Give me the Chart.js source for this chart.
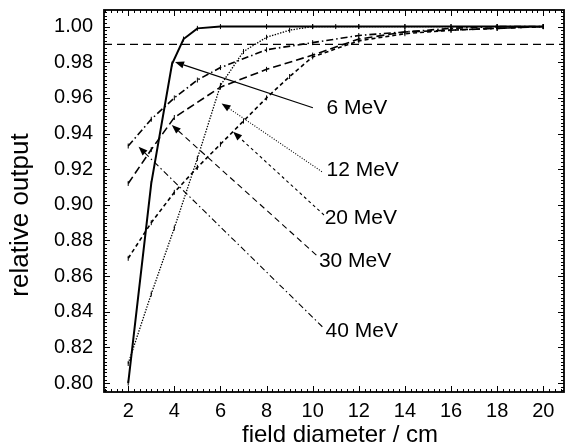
<!DOCTYPE html>
<html><head><meta charset="utf-8">
<script src="https://cdn.jsdelivr.net/npm/chart.js@4.4.0/dist/chart.umd.min.js"></script>
<style>html,body{margin:0;padding:0;background:#fff}#wrap{width:569px;height:448px}</style>
</head><body><div id="wrap"><canvas id="c" width="569" height="448"></canvas></div>
<script>
// ---- data ----
const diam6  = [2, 3, 3.9, 4.4, 5, 6, 8, 10, 11, 12, 14, 16, 18, 20];
const out6   = [0.800, 0.912, 0.979, 0.993, 0.999, 1.000, 1.000, 1.000, 1.000, 1.000, 1.000, 1.000, 1.000, 1.000];
const diam12 = [2, 3, 4, 5, 6, 7, 8, 9, 10, 12, 14, 16, 18, 20];
const out12  = [0.811, 0.850, 0.887, 0.926, 0.967, 0.986, 0.994, 0.998, 1.000, 1.000, 1.000, 1.000, 1.000, 1.000];
const diam20 = [2, 3, 4, 5, 6, 7, 8, 9, 10, 12, 14, 16, 18, 20];
const out20  = [0.870, 0.890, 0.907, 0.921, 0.934, 0.947, 0.960, 0.972, 0.983, 0.992, 0.996, 0.998, 0.999, 1.000];
const diam30 = [2, 3, 4, 6, 8, 10, 12, 14, 16, 18, 20];
const out30  = [0.912, 0.931, 0.949, 0.966, 0.976, 0.984, 0.993, 0.997, 0.998, 0.999, 1.000];
const diam40 = [2, 3, 4, 5, 6, 8, 10, 12, 14, 16, 18, 20];
const out40  = [0.933, 0.948, 0.960, 0.970, 0.977, 0.987, 0.991, 0.995, 0.997, 0.999, 1.000, 1.000];
const refLevel = 0.99;
const xTicks = [2, 4, 6, 8, 10, 12, 14, 16, 18, 20];
const yTicks = [0.80, 0.82, 0.84, 0.86, 0.88, 0.90, 0.92, 0.94, 0.96, 0.98, 1.00];
const seriesNames = ['6 MeV', '12 MeV', '20 MeV', '30 MeV', '40 MeV'];
const xTitle = 'field diameter / cm';
const yTitle = 'relative output';
// annotation anchors in data units (label, arrow tail, arrow tip)
const annTipX  = [4.03, 6.05, 6.55, 3.89, 2.45];
const annTipY  = [0.9801, 0.9569, 0.941, 0.9448, 0.9326];
const annTailX = [10.01, 10.40, 10.49, 10.16, 10.42];
const annTailY = [0.9545, 0.9186, 0.8943, 0.8718, 0.8316];
const annTextX = [10.60, 10.60, 10.52, 10.27, 10.56];
const annTextY = [0.954, 0.9195, 0.8923, 0.8682, 0.8289];

// ---- styles ----
const FONT = "'Liberation Sans', Arial, Helvetica, sans-serif";
const dashes = [[], [1.4, 1.4], [4, 3], [8, 4], [7, 3, 1.5, 3]];
const widths = [2, 1.3, 1.6, 1.6, 1.6];
const annDashes = [[], [1, 1.6], [3, 3], [6, 4], [6, 3, 1.5, 3]];

const xs = [diam6, diam12, diam20, diam30, diam40];
const ys = [out6, out12, out20, out30, out40];
const datasets = seriesNames.map((n, k) => ({
  label: n,
  data: xs[k].map((x, i) => ({x: x, y: ys[k][i]})),
  borderColor: '#000', backgroundColor: '#000',
  borderWidth: widths[k], borderDash: dashes[k],
  pointStyle: 'line', rotation: 90, pointRadius: 2.5, pointBorderWidth: 1,
  pointBorderColor: '#000', tension: 0, fill: false
}));

const framePlugin = {
  id: 'frame',
  afterDatasetsDraw(chart) {
    const {ctx, chartArea: a, scales: {x, y}} = chart;
    ctx.save();
    ctx.strokeStyle = '#000';
    // reference line
    ctx.lineWidth = 1.3; ctx.setLineDash([8, 5]);
    const yr = y.getPixelForValue(refLevel);
    ctx.beginPath(); ctx.moveTo(a.left, yr); ctx.lineTo(a.right, yr); ctx.stroke();
    ctx.setLineDash([]);
    // ticks
    ctx.lineWidth = 1;
    ctx.beginPath();
    for (let i = Math.ceil(x.min * 4); i <= Math.floor(x.max * 4); i++) {
      const v = i / 4, px = Math.round(x.getPixelForValue(v)) + 0.5;
      const L = (i % 8 === 0) ? 6 : 3;
      ctx.moveTo(px, a.bottom); ctx.lineTo(px, a.bottom - L);
      ctx.moveTo(px, a.top); ctx.lineTo(px, a.top + L);
    }
    for (let i = Math.ceil(y.min * 500); i <= Math.floor(y.max * 500); i++) {
      const v = i / 500, py = Math.round(y.getPixelForValue(v)) + 0.5;
      const L = (i % 10 === 0) ? 6 : 3;
      ctx.moveTo(a.left, py); ctx.lineTo(a.left + L, py);
      ctx.moveTo(a.right, py); ctx.lineTo(a.right - L, py);
    }
    ctx.stroke();
    // frame
    ctx.lineWidth = 1.8;
    ctx.strokeRect(a.left, a.top, a.right - a.left, a.bottom - a.top);
    // annotations
    ctx.font = '21px ' + FONT; ctx.fillStyle = '#000';
    ctx.textAlign = 'left'; ctx.textBaseline = 'middle';
    for (let k = 0; k < seriesNames.length; k++) {
      const tx = x.getPixelForValue(annTipX[k]), ty = y.getPixelForValue(annTipY[k]);
      const sx = x.getPixelForValue(annTailX[k]), sy = y.getPixelForValue(annTailY[k]);
      const ang = Math.atan2(ty - sy, tx - sx);
      const hl = 9, hw = 3.5;
      const bx = tx - hl * Math.cos(ang), by = ty - hl * Math.sin(ang);
      ctx.lineWidth = 1.1; ctx.setLineDash(annDashes[k]);
      ctx.beginPath(); ctx.moveTo(sx, sy); ctx.lineTo(bx, by); ctx.stroke();
      ctx.setLineDash([]);
      ctx.beginPath();
      ctx.moveTo(tx, ty);
      ctx.lineTo(bx + hw * Math.sin(ang), by - hw * Math.cos(ang));
      ctx.lineTo(bx - hw * Math.sin(ang), by + hw * Math.cos(ang));
      ctx.closePath(); ctx.fill();
      ctx.fillText(seriesNames[k], x.getPixelForValue(annTextX[k]), y.getPixelForValue(annTextY[k]));
    }
    // axis titles
    ctx.textAlign = 'center'; ctx.textBaseline = 'middle';
    ctx.font = '24px ' + FONT;
    ctx.fillText(xTitle, (a.left + a.right) / 2 + 6, chart.height - 13);
    ctx.font = '26px ' + FONT;
    ctx.translate(21, (a.top + a.bottom) / 2 + 14);
    ctx.rotate(-Math.PI / 2);
    ctx.fillText(yTitle, 0, 0);
    ctx.restore();
  }
};

Chart.defaults.font.family = FONT;
Chart.defaults.color = '#000';
new Chart(document.getElementById('c'), {
  type: 'line',
  data: {datasets: datasets},
  plugins: [framePlugin],
  options: {
    responsive: false, animation: false, devicePixelRatio: 1,
    layout: {padding: {left: 0, right: 4, top: 10, bottom: 0}},
    plugins: {legend: {display: false}, tooltip: {enabled: false}},
    scales: {
      x: {
        type: 'linear', min: 0.95, max: 20.9,
        afterBuildTicks: s => { s.ticks = xTicks.map(v => ({value: v})); },
        grid: {display: false, drawTicks: false}, border: {display: false},
        ticks: {color: '#000', font: {size: 20}, padding: 7, maxRotation: 0, autoSkip: false,
                callback: v => String(v)},
        title: {display: false},
        afterFit: s => { s.height = 56; s.paddingLeft = 0; s.paddingRight = 0; }
      },
      y: {
        type: 'linear', min: 0.795, max: 1.0093,
        afterBuildTicks: s => { s.ticks = yTicks.map(v => ({value: v})); },
        grid: {display: false, drawTicks: false}, border: {display: false},
        ticks: {color: '#000', font: {size: 20}, padding: 11, autoSkip: false,
                callback: v => Number(v).toFixed(2)},
        title: {display: false},
        afterFit: s => { s.width = 104; s.paddingTop = 0; s.paddingBottom = 0; }
      }
    }
  }
});
</script></body></html>
